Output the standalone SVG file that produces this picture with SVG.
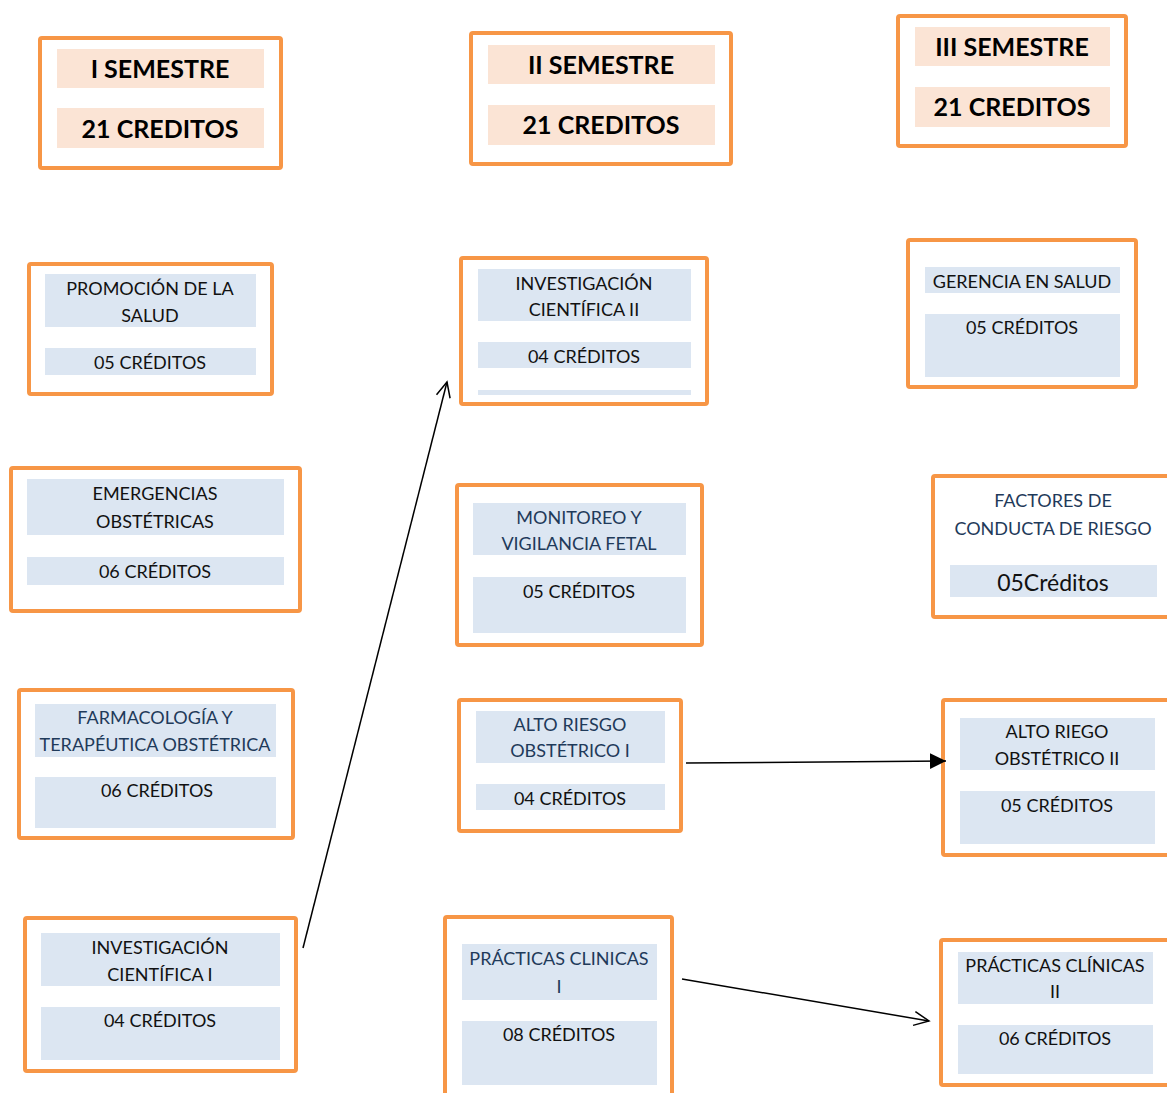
<svg xmlns="http://www.w3.org/2000/svg" width="1167" height="1093" viewBox="0 0 1167 1093">
<style>
.box{fill:#fff;stroke:#f79646;stroke-width:4}
.hf{fill:#fbe4d5}
.bf{fill:#dce6f2}
.h{font-family:Lato,"Liberation Sans",sans-serif;font-weight:bold;font-size:25px;fill:#000;text-anchor:middle}
.t{font-family:Lato,"Liberation Sans",sans-serif;font-size:18px;fill:#111;text-anchor:middle}
.n{fill:#1f3a5a}
.c{stroke:#000;stroke-width:1.5;fill:none}
</style>
<defs>
<marker id="open" markerWidth="20" markerHeight="20" refX="16" refY="8" orient="auto" markerUnits="userSpaceOnUse"><path d="M1,1 L16,8 L1,15" fill="none" stroke="#000" stroke-width="1.5"/></marker>
<marker id="fill" markerWidth="20" markerHeight="20" refX="16" refY="8" orient="auto" markerUnits="userSpaceOnUse"><path d="M0,0 L16,8 L0,16 Z" fill="#000"/></marker>
</defs>
<rect width="1167" height="1093" fill="#fff"/>
<g id="h1"><rect class="box" x="40" y="38" width="241" height="130" rx="2"/><rect class="hf" x="57" y="49" width="207" height="39"/><rect class="hf" x="57" y="108" width="207" height="40"/><text class="h" x="160" y="78">I SEMESTRE</text><text class="h" x="160" y="138">21 CREDITOS</text></g>
<g id="h2"><rect class="box" x="471" y="33" width="260" height="131" rx="2"/><rect class="hf" x="488" y="45" width="227" height="39"/><rect class="hf" x="488" y="105" width="227" height="40"/><text class="h" x="601" y="74">II SEMESTRE</text><text class="h" x="601" y="134">21 CREDITOS</text></g>
<g id="h3"><rect class="box" x="898" y="16" width="228" height="130" rx="2"/><rect class="hf" x="915" y="27" width="195" height="39"/><rect class="hf" x="915" y="87" width="195" height="40"/><text class="h" x="1012" y="56">III SEMESTRE</text><text class="h" x="1012" y="116">21 CREDITOS</text></g>
<g id="promocion"><rect class="box" x="29" y="264" width="243" height="130" rx="2"/><rect class="bf" x="45" y="274" width="211" height="53"/><rect class="bf" x="45" y="348" width="211" height="27"/><text class="t" x="150" y="295">PROMOCIÓN DE LA</text><text class="t" x="150" y="322">SALUD</text><text class="t" x="150" y="369">05 CRÉDITOS</text></g>
<g id="emergencias"><rect class="box" x="11" y="468" width="289" height="143" rx="2"/><rect class="bf" x="27" y="479" width="257" height="56"/><rect class="bf" x="27" y="557" width="257" height="28"/><text class="t" x="155" y="500">EMERGENCIAS</text><text class="t" x="155" y="528">OBSTÉTRICAS</text><text class="t" x="155" y="578">06 CRÉDITOS</text></g>
<g id="farmacologia"><rect class="box" x="19" y="690" width="274" height="148" rx="2"/><rect class="bf" x="35" y="704" width="241" height="53"/><rect class="bf" x="35" y="777" width="241" height="51"/><text class="t n" x="155" y="724">FARMACOLOGÍA Y</text><text class="t n" x="155" y="751">TERAPÉUTICA OBSTÉTRICA</text><text class="t" x="157" y="797">06 CRÉDITOS</text></g>
<g id="investigacion1"><rect class="box" x="25" y="918" width="271" height="153" rx="2"/><rect class="bf" x="41" y="933" width="239" height="53"/><rect class="bf" x="41" y="1007" width="239" height="53"/><text class="t" x="160" y="954">INVESTIGACIÓN</text><text class="t" x="160" y="981">CIENTÍFICA I</text><text class="t" x="160" y="1027">04 CRÉDITOS</text></g>
<g id="investigacion2"><rect class="box" x="461" y="258" width="246" height="146" rx="2"/><rect class="bf" x="478" y="269" width="213" height="52"/><rect class="bf" x="478" y="342" width="213" height="26"/><rect class="bf" x="478" y="390" width="213" height="5"/><text class="t" x="584" y="290">INVESTIGACIÓN</text><text class="t" x="584" y="316">CIENTÍFICA II</text><text class="t" x="584" y="363">04 CRÉDITOS</text></g>
<g id="monitoreo"><rect class="box" x="457" y="485" width="245" height="160" rx="2"/><rect class="bf" x="473" y="503" width="213" height="52"/><rect class="bf" x="473" y="577" width="213" height="56"/><text class="t n" x="579" y="524">MONITOREO Y</text><text class="t n" x="579" y="550">VIGILANCIA FETAL</text><text class="t" x="579" y="598">05 CRÉDITOS</text></g>
<g id="altoriesgo1"><rect class="box" x="459" y="700" width="222" height="131" rx="2"/><rect class="bf" x="476" y="711" width="189" height="52"/><rect class="bf" x="476" y="784" width="189" height="26"/><text class="t n" x="570" y="731">ALTO RIESGO</text><text class="t n" x="570" y="757">OBSTÉTRICO I</text><text class="t" x="570" y="805">04 CRÉDITOS</text></g>
<g id="practicas1"><rect class="box" x="445" y="917" width="227" height="190" rx="2"/><rect class="bf" x="462" y="944" width="195" height="56"/><rect class="bf" x="462" y="1021" width="195" height="64"/><text class="t n" x="559" y="965">PRÁCTICAS CLINICAS</text><text class="t n" x="559" y="993">I</text><text class="t" x="559" y="1041">08 CRÉDITOS</text></g>
<g id="gerencia"><rect class="box" x="908" y="240" width="228" height="147" rx="2"/><rect class="bf" x="925" y="267" width="195" height="26"/><rect class="bf" x="925" y="314" width="195" height="63"/><text class="t" x="1022" y="288">GERENCIA EN SALUD</text><text class="t" x="1022" y="334">05 CRÉDITOS</text></g>
<g id="factores"><rect class="box" x="933" y="476" width="250" height="141" rx="2"/><rect class="bf" x="950" y="565" width="207" height="32"/><text class="t n" x="1053" y="507">FACTORES DE</text><text class="t n" x="1053" y="535">CONDUCTA DE RIESGO</text><text class="t" x="1053" y="591" style="font-size:23px">05Créditos</text></g>
<g id="altoriesgo2"><rect class="box" x="943" y="700" width="240" height="155" rx="2"/><rect class="bf" x="960" y="718" width="195" height="52"/><rect class="bf" x="960" y="791" width="195" height="53"/><text class="t" x="1057" y="738">ALTO RIEGO</text><text class="t" x="1057" y="765">OBSTÉTRICO II</text><text class="t" x="1057" y="812">05 CRÉDITOS</text></g>
<g id="practicas2"><rect class="box" x="941" y="940" width="240" height="145" rx="2"/><rect class="bf" x="958" y="952" width="195" height="52"/><rect class="bf" x="958" y="1025" width="195" height="49"/><text class="t" x="1055" y="972">PRÁCTICAS CLÍNICAS</text><text class="t" x="1055" y="998">II</text><text class="t" x="1055" y="1045">06 CRÉDITOS</text></g>
<g id="connectors">
<line class="c" x1="303" y1="948" x2="447" y2="382" marker-end="url(#open)"/>
<line class="c" x1="686" y1="763" x2="946" y2="761" marker-end="url(#fill)"/>
<line class="c" x1="682" y1="979" x2="929" y2="1021" marker-end="url(#open)"/>
</g>
</svg>
